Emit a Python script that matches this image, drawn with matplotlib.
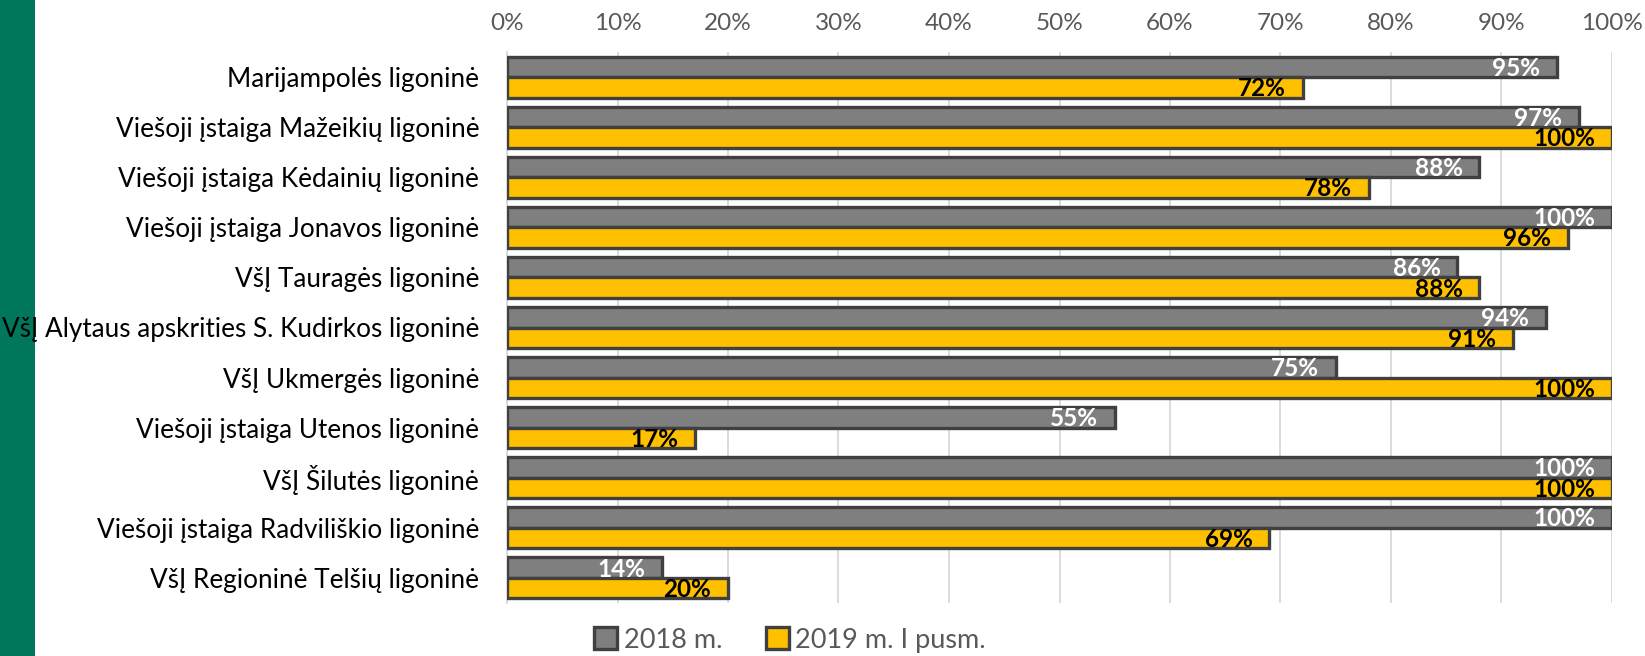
import matplotlib
matplotlib.use("Agg")
import matplotlib.pyplot as plt
from matplotlib.patches import Rectangle
import numpy as np

categories = [
    "Marijampolės ligoninė",
    "Viešoji įstaiga Mažeikių ligoninė",
    "Viešoji įstaiga Kėdainių ligoninė",
    "Viešoji įstaiga Jonavos ligoninė",
    "VšĮ Tauragės ligoninė",
    "VšĮ Alytaus apskrities S. Kudirkos ligoninė",
    "VšĮ Ukmergės ligoninė",
    "Viešoji įstaiga Utenos ligoninė",
    "VšĮ Šilutės ligoninė",
    "Viešoji įstaiga Radviliškio ligoninė",
    "VšĮ Regioninė Telšių ligoninė",
]
series_names = ["2018 m.", "2019 m. I pusm."]
values_2018 = [95, 97, 88, 100, 86, 94, 75, 55, 100, 100, 14]
values_2019 = [72, 100, 78, 96, 88, 91, 100, 17, 100, 69, 20]
xticks = [0, 10, 20, 30, 40, 50, 60, 70, 80, 90, 100]
xtick_labels = [f"{t}%" for t in xticks]

plt.rcParams['font.family'] = ['Lato', 'DejaVu Sans']

W, H = 1645, 656
fig = plt.figure(figsize=(W / 100, H / 100), dpi=100)
fig.patches.append(Rectangle((0, 0), 35 / W, 1, transform=fig.transFigure,
                             facecolor="#00775A", edgecolor="none", zorder=0))

ax = fig.add_axes([507 / W, 1 - 603 / H, (1612 - 507) / W, (603 - 52) / H])
ax.set_zorder(2)

y = np.arange(len(categories))
h = 0.41
gray = "#7F7F7F"
yellow = "#FFC000"
edge = "#404040"

b1 = ax.barh(y - h / 2, values_2018, height=h, color=gray, edgecolor=edge,
             linewidth=2.4, label=series_names[0], zorder=3)
b2 = ax.barh(y + h / 2, values_2019, height=h, color=yellow, edgecolor=edge,
             linewidth=2.4, label=series_names[1], zorder=3)

for yi, v in zip(y, values_2018):
    ax.annotate(f"{v}%", xy=(v, yi - h / 2), xytext=(-12, -1), textcoords="offset points",
                ha="right", va="center", fontsize=17.5, fontweight="bold", color="white", zorder=5)
for yi, v in zip(y, values_2019):
    ax.annotate(f"{v}%", xy=(v, yi + h / 2), xytext=(-12, -1), textcoords="offset points",
                ha="right", va="center", fontsize=17.5, fontweight="bold", color="black", zorder=5)

ax.set_xlim(0, 100)
ax.set_ylim(len(categories) - 0.5, -0.5)
ax.set_xticks(xticks)
ax.set_xticklabels(xtick_labels)
ax.xaxis.tick_top()
ax.tick_params(axis="x", length=0, pad=13, labelsize=17.5, labelcolor="#595959")
ax.set_yticks(y)
ax.set_yticklabels(categories)
ax.tick_params(axis="y", length=0, pad=20, labelsize=18.8, labelcolor="black")
ax.grid(axis="x", color="#D9D9D9", linewidth=1.3, zorder=0)
for s in ["top", "right", "bottom"]:
    ax.spines[s].set_visible(False)
ax.spines["left"].set_color("#D9D9D9")
ax.spines["left"].set_linewidth(1.3)

leg = fig.legend(handles=[b1, b2], labels=series_names, loc="center",
                 bbox_to_anchor=(790 / W, 1 - 640 / H), ncol=2, frameon=False,
                 fontsize=19.5, handlelength=0.85, handleheight=0.85, handletextpad=0.25,
                 columnspacing=1.6)
for t in leg.get_texts():
    t.set_color("#595959")

fig.savefig("out.png", dpi=100)
